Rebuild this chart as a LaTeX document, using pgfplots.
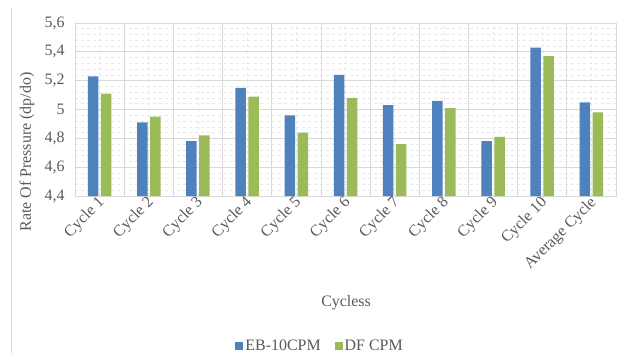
\documentclass[border=0pt]{standalone}
\usepackage{fontspec}
\setmainfont{Liberation Serif}
\usepackage{pgfplots}
\pgfplotsset{compat=1.18}
\definecolor{ebblue}{HTML}{4F81BD}
\definecolor{dfgreen}{HTML}{9BBB59}
\definecolor{txt}{HTML}{595959}
\definecolor{gridc}{HTML}{D9D9D9}
\definecolor{gridm}{HTML}{E8E8E8}
\begin{document}
\begin{tikzpicture}[x=1bp,y=1bp]
\path[use as bounding box] (0,0) rectangle (623,353);
\draw[gridc, line width=1bp] (11,0) -- (11,345);
\begin{axis}[
  at={(75bp,157bp)}, anchor=south west,
  scale only axis, width=541bp, height=173bp,
  ybar=2.5bp, bar width=10.5bp,
  xmin=-0.5, xmax=10.5, ymin=4.4, ymax=5.6,
  enlargelimits=false,
  xtick={0,1,2,3,4,5,6,7,8,9,10},
  xticklabels={Cycle 1,Cycle 2,Cycle 3,Cycle 4,Cycle 5,Cycle 6,Cycle 7,Cycle 8,Cycle 9,Cycle 10,Average Cycle},
  minor xtick={-0.5,0.5,1.5,2.5,3.5,4.5,5.5,6.5,7.5,8.5,9.5,10.5},
  ytick={4.4,4.6,4.8,5,5.2,5.4,5.6},
  minor y tick num=4,
  grid=both,
  major x grid style={gridm, dashed, line width=0.6bp},
  minor x grid style={gridc, line width=0.8bp},
  major y grid style={gridc, line width=0.8bp},
  minor y grid style={gridm, dashed, line width=0.6bp},
  axis line style={gridc, line width=0.8bp},
  major tick length=0pt, minor tick length=0pt,
  axis on top=false,
  /pgf/number format/.cd, use comma, assume math mode=true, /pgfplots/.cd,
  tick label style={font=\fontsize{16}{18}\selectfont, text=txt},
  yticklabel style={xshift=-7bp},
  xticklabel style={rotate=45, anchor=east, xshift=2bp, yshift=-5bp},
  xlabel={Cycless},
  ylabel={Rate Of Pressure (dp/do)},
  label style={font=\fontsize{16}{18}\selectfont, text=txt},
  xlabel style={at={(axis description cs:0.501,-0.618)}, anchor=center},
  ylabel style={at={(axis description cs:-0.0887,0.254)}, anchor=center},
  legend style={at={(axis description cs:0.453,-0.867)}, anchor=center, draw=none,
    font=\fontsize{16}{18}\selectfont, text=txt, legend columns=2,
    /tikz/every even column/.append style={column sep=12bp}},
  legend image code/.code={\fill[#1] (0bp,-4bp) rectangle (8bp,4bp);},
]
\addplot[fill=ebblue, draw=none] coordinates {
(0,5.23) (1,4.91) (2,4.78) (3,5.15) (4,4.96) (5,5.24) (6,5.03) (7,5.06) (8,4.78) (9,5.43) (10,5.05)};
\addplot[fill=dfgreen, draw=none] coordinates {
(0,5.11) (1,4.95) (2,4.82) (3,5.09) (4,4.84) (5,5.08) (6,4.76) (7,5.01) (8,4.81) (9,5.37) (10,4.98)};
\legend{EB-10CPM, DF CPM}
\end{axis}
\end{tikzpicture}
\end{document}
